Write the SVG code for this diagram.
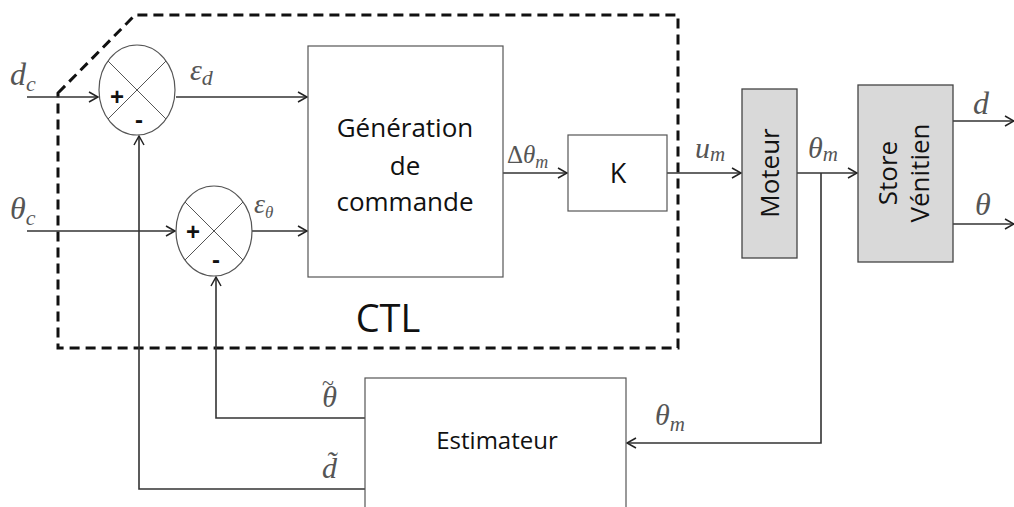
<svg xmlns="http://www.w3.org/2000/svg" width="1014" height="507" viewBox="0 0 1014 507">
<defs>
<marker id="arr" markerWidth="12" markerHeight="12" refX="10" refY="6" orient="auto" markerUnits="userSpaceOnUse">
<path d="M1,1 L10,6 L1,11" fill="none" stroke="#222" stroke-width="1.5"/>
</marker>
<style>
.ln{fill:none;stroke:#333;stroke-width:1.6}
.box{fill:#fff;stroke:#555;stroke-width:1.2}
.gbox{fill:#d9d9d9;stroke:#444;stroke-width:1.3}
.sum{fill:#fff;stroke:#555;stroke-width:1.2}
.x{stroke:#555;stroke-width:1}
.t{font-family:"Open Sans","Liberation Sans",sans-serif;fill:#111}
.m{font-family:"Liberation Serif","DejaVu Serif",serif;font-style:italic;fill:#555}
.pm{font-family:"Liberation Sans",sans-serif;font-weight:bold;fill:#111;font-size:24px;text-anchor:middle}
</style>
</defs>
<rect width="1014" height="507" fill="#fff"/>
<g id="ctl-boundary">
<path d="M58,93 L135,15 L678,15 L678,348 L58,348 Z" fill="none" stroke="#111" stroke-width="3" stroke-dasharray="10,6"/>
<text class="t" x="388" y="332" font-size="38" text-anchor="middle">CTL</text>
</g>
<g id="connectors">
<path class="ln" d="M27,97 L98,97" marker-end="url(#arr)"/>
<path class="ln" d="M176,97 L307,97" marker-end="url(#arr)"/>
<path class="ln" d="M27,231 L175,231" marker-end="url(#arr)"/>
<path class="ln" d="M252,231 L307,231" marker-end="url(#arr)"/>
<path class="ln" d="M503,173 L567,173" marker-end="url(#arr)"/>
<path class="ln" d="M667,173 L741,173" marker-end="url(#arr)"/>
<path class="ln" d="M797,173 L857,173" marker-end="url(#arr)"/>
<path class="ln" d="M953,121 L1014,121" marker-end="url(#arr)"/>
<path class="ln" d="M953,224 L1014,224" marker-end="url(#arr)"/>
<path class="ln" d="M821,173 L821,443 L627,443" marker-end="url(#arr)"/>
<path class="ln" d="M365,418 L216,418 L216,277" marker-end="url(#arr)"/>
<path class="ln" d="M365,489 L139,489 L139,136" marker-end="url(#arr)"/>
</g>
<g id="sum-d">
<ellipse class="sum" cx="137" cy="90" rx="38" ry="45"/>
<line class="x" x1="108" y1="61" x2="166" y2="119"/>
<line class="x" x1="166" y1="61" x2="108" y2="119"/>
<text class="pm" x="117" y="105">+</text>
<text class="pm" x="139" y="128">-</text>
</g>
<g id="sum-theta">
<ellipse class="sum" cx="214" cy="231" rx="38" ry="45"/>
<line class="x" x1="185" y1="202" x2="243" y2="260"/>
<line class="x" x1="243" y1="202" x2="185" y2="260"/>
<text class="pm" x="193" y="240">+</text>
<text class="pm" x="216" y="268">-</text>
</g>
<g id="generation">
<rect class="box" x="308" y="46" width="195" height="231"/>
<text class="t" x="405" y="137" font-size="26" text-anchor="middle">Génération</text>
<text class="t" x="405" y="175" font-size="26" text-anchor="middle">de</text>
<text class="t" x="405" y="211" font-size="26" text-anchor="middle">commande</text>
</g>
<g id="gain-k">
<rect class="box" x="568" y="135" width="99" height="76"/>
<text class="t" x="618" y="183" font-size="27" text-anchor="middle">K</text>
</g>
<g id="moteur">
<rect class="gbox" x="742" y="89" width="55" height="169"/>
<text class="t" transform="translate(779,173) rotate(-90)" font-size="26" text-anchor="middle">Moteur</text>
</g>
<g id="store">
<rect class="gbox" x="858" y="85" width="95" height="177"/>
<text class="t" transform="rotate(-90 897 173)" x="897" y="173" font-size="26" text-anchor="middle">Store</text>
<text class="t" transform="rotate(-90 929 173)" x="929" y="173" font-size="26" text-anchor="middle">Vénitien</text>
</g>
<g id="estimateur">
<rect class="box" x="365" y="378" width="261" height="140"/>
<text class="t" x="497" y="449" font-size="24" text-anchor="middle">Estimateur</text>
</g>
<g id="labels">
<text class="m" x="10" y="85" font-size="32">d<tspan font-size="22" dy="6">c</tspan></text>
<text class="m" x="10" y="219" font-size="32">θ<tspan font-size="22" dy="6">c</tspan></text>
<text class="m" x="190" y="80" font-size="30">ε<tspan font-size="22" dy="5">d</tspan></text>
<text class="m" x="254" y="213" font-size="28">ε<tspan font-size="17" dy="5">θ</tspan></text>
<text class="m" x="507" y="163" font-size="25"><tspan font-style="normal">Δ</tspan>θ<tspan font-size="18" dy="5">m</tspan></text>
<text class="m" x="695" y="158" font-size="30">u<tspan font-size="21" dy="3">m</tspan></text>
<text class="m" x="808" y="158" font-size="30">θ<tspan font-size="21" dy="3">m</tspan></text>
<text class="m" x="973" y="114" font-size="32">d</text>
<text class="m" x="975" y="215" font-size="32">θ</text>
<text class="m" x="655" y="425" font-size="30">θ<tspan font-size="21" dy="6">m</tspan></text>
<text class="m" x="322" y="407" font-size="30">θ<tspan dx="-15" dy="-17" font-size="22" font-style="normal">~</tspan></text>
<text class="m" x="322" y="478" font-size="30">d̃</text>
</g>
</svg>
